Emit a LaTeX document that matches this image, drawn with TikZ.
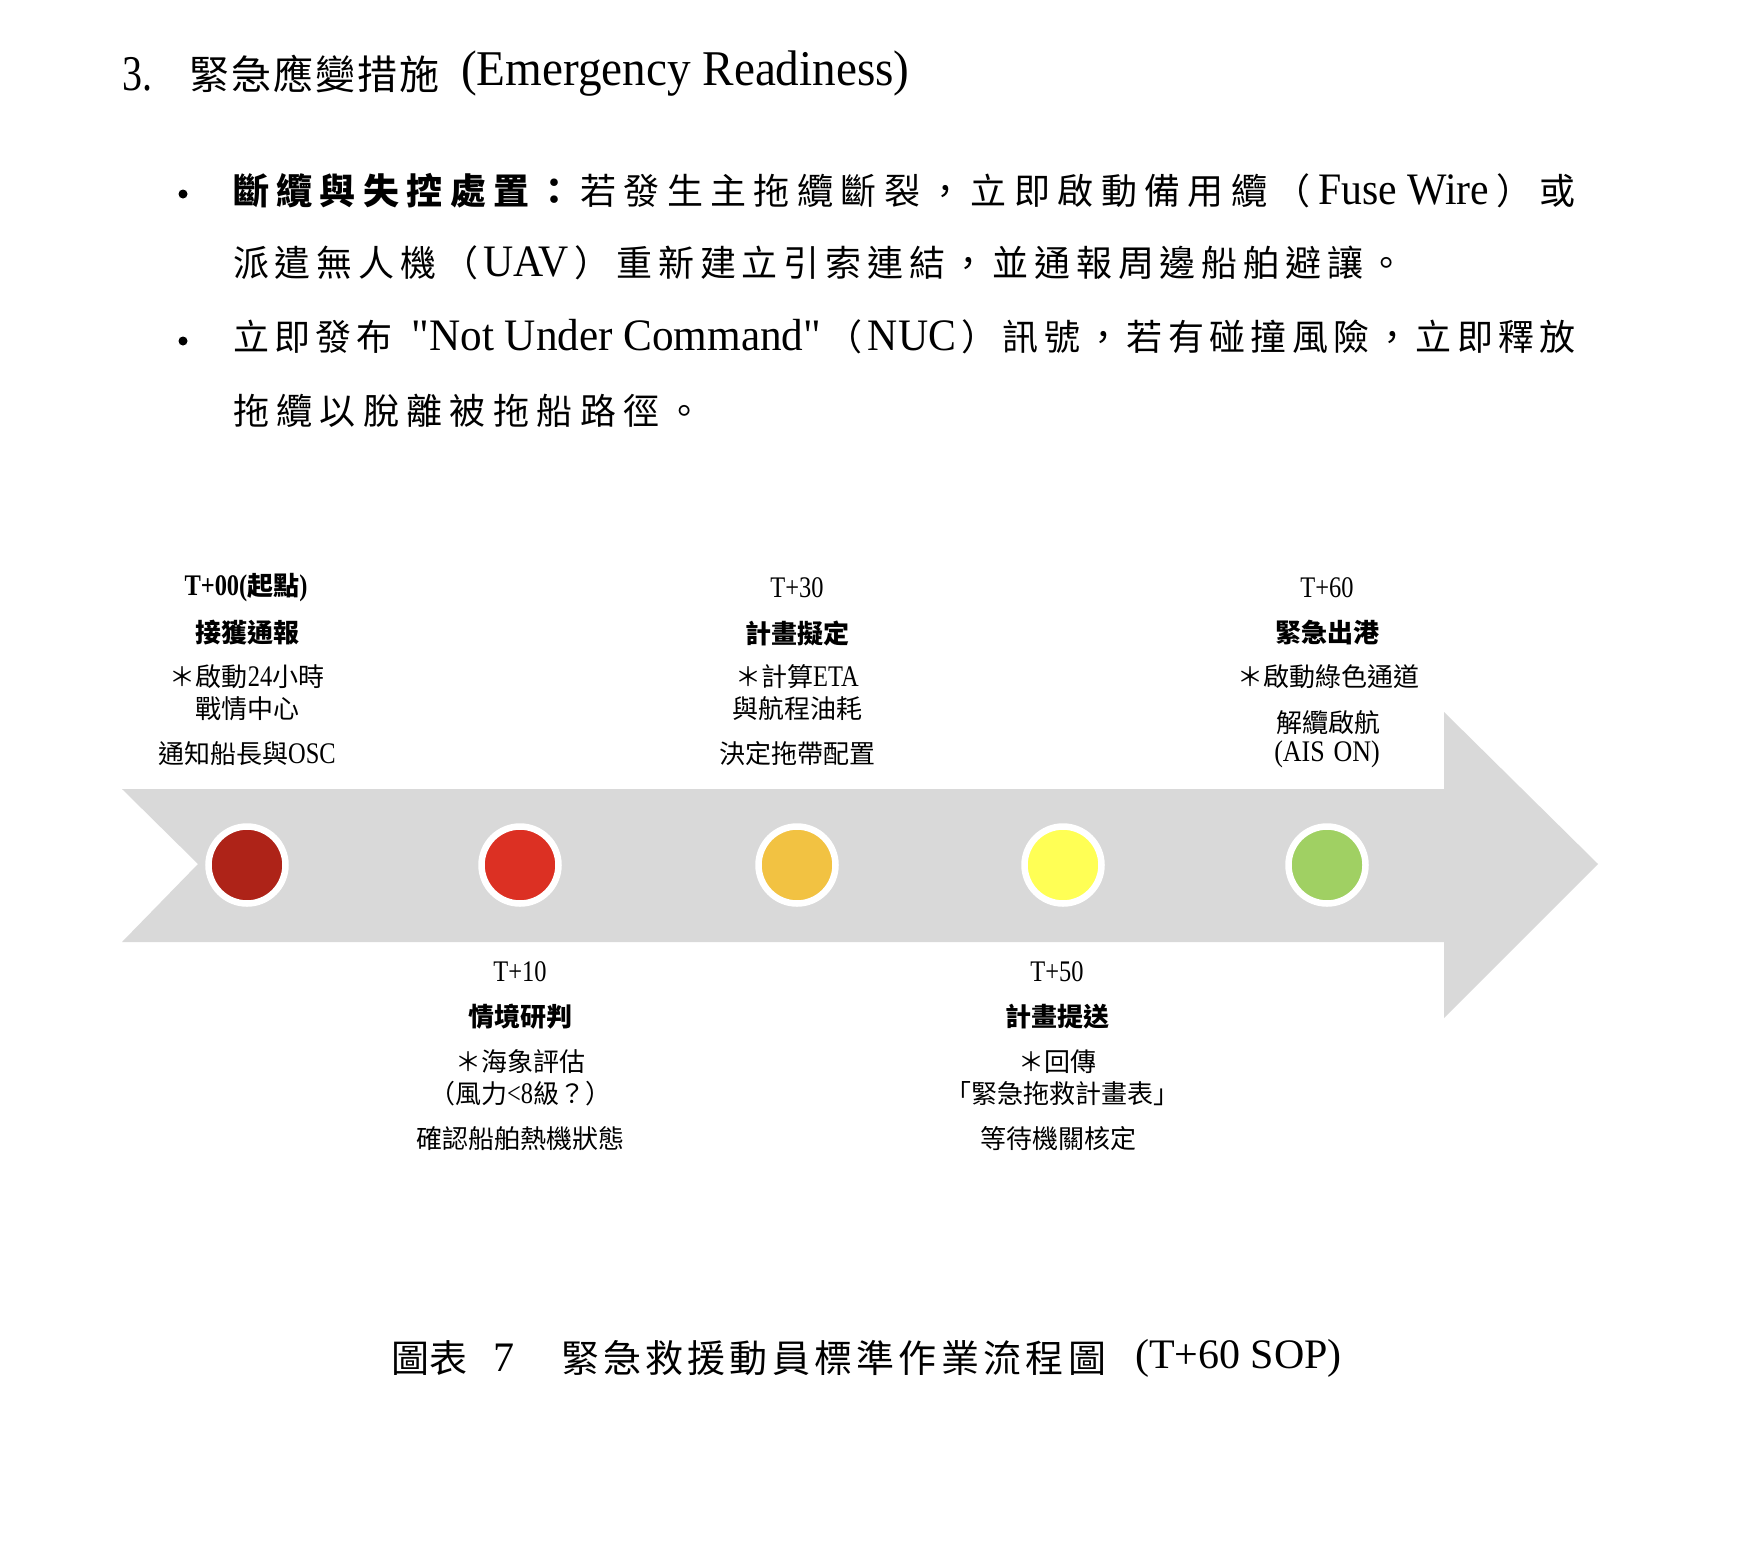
\documentclass[tikz,border=0pt]{standalone}
\usepackage{fontspec}
\usepackage{graphicx}
\setmainfont{Noto Sans CJK TC}
\newfontfamily\latfont{Liberation Serif}
\ExplSyntaxOn
\NewDocumentCommand\spreadchars{m}{\tl_map_inline:nn {#1}{##1\hfil}\unskip}
\ExplSyntaxOff
\newcommand\spreadto[2]{\hbox to #1{\spreadchars{#2}}}
\def\latv{1.15}
\newcommand\lat[2][1]{\scalebox{#1}[\latv]{\latfont #2}}
\definecolor{arrowgray}{HTML}{D9D9D9}
\definecolor{cA}{HTML}{AE2318}
\definecolor{cB}{HTML}{DC3023}
\definecolor{cC}{HTML}{F2C242}
\definecolor{cD}{HTML}{FFFF55}
\definecolor{cE}{HTML}{A0D063}
\tikzset{
  txt/.style={inner sep=0pt, outer sep=0pt},
  titlefont/.style={font=\fontsize{40}{48}\selectfont\def\latv{1.25}},
  bodyfont/.style={font=\fontsize{36}{44}\selectfont\def\latv{1.25}},
  lblfont/.style={font=\fontsize{26}{32}\selectfont\def\latv{1.15}},
  lblbold/.style={font=\fontsize{26}{32}\selectfont\bfseries\def\latv{1.15}},
  capfont/.style={font=\fontsize{38}{46}\selectfont},
  dot/.style={circle, draw=white, line width=6.5pt, minimum size=77pt, inner sep=0pt},
  bulletdot/.style={circle, fill=black, minimum size=9pt, inner sep=0pt},
}
\begin{document}
\begin{tikzpicture}[x=1pt,y=-1pt]
\fill[white] (0,0) rectangle (1742,1558);
\path[use as bounding box] (0,0) rectangle (1742,1558);

% Title
\node[txt, titlefont, anchor=west] (tnum) at (122,74) {\lat[1.0]{3.}};
\node[txt, titlefont, anchor=west] (tcjk) at (189,74) {\spreadto{250pt}{緊急應變措施}};
\node[txt, titlefont, anchor=west] (tlat) at (461,74) {\lat[1.18]{(Emergency Readiness)}};

% Bullets
\node[bulletdot] (b1) at (183,194) {};
\node[bulletdot] (b2) at (183,341) {};

\node[txt, bodyfont, anchor=west] (l1) at (233,191)
  {\hbox to 1343pt{\bfseries\spreadchars{斷纜與失控處置：}\hfil\mdseries\spreadchars{若發生主拖纜斷裂，立即啟動備用纜（{\lat[1.16]{Fuse Wire}}）或}}};
\node[txt, bodyfont, anchor=west] (l2) at (233,263)
  {\spreadto{1172pt}{派遣無人機（{\lat[1.16]{UAV}}）重新建立引索連結，並通報周邊船舶避讓。}};
\node[txt, bodyfont, anchor=west] (l3) at (233,337)
  {\spreadto{1343pt}{立即發布{\hskip 8pt}{\lat[1.2]{"Not Under Command"}}（{\lat[1.16]{NUC}}）訊號，若有碰撞風險，立即釋放}};
\node[txt, bodyfont, anchor=west] (l4) at (233,411)
  {\spreadto{470pt}{拖纜以脫離被拖船路徑。}};

% Timeline arrow
\fill[arrowgray] (122,789) -- (1444,789) -- (1444,712) -- (1598,864) -- (1444,1018) -- (1444,942) -- (122,942) -- (198,864) -- cycle;

\node[dot, fill=cA] (d1) at (247,865) {};
\node[dot, fill=cB] (d2) at (520,865) {};
\node[dot, fill=cC] (d3) at (797,865) {};
\node[dot, fill=cD] (d4) at (1063,865) {};
\node[dot, fill=cE] (d5) at (1327,865) {};

% Column A
\node[txt, lblbold] (a1) at (246,588) {\lat[0.94]{T+00(}起點\lat[0.94]{)}};
\node[txt, lblbold] (a2) at (247,633) {接獲通報};
\node[txt, lblfont] (a3) at (247,677) {＊啟動\lat[0.94]{24}小時};
\node[txt, lblfont] (a4) at (247,709) {戰情中心};
\node[txt, lblfont] (a5) at (247,754) {通知船長與\lat[0.94]{OSC}};

% Column B
\node[txt, lblfont] (bb1) at (797,588) {\lat[0.94]{T+30}};
\node[txt, lblbold] (bb2) at (797,633) {計畫擬定};
\node[txt, lblfont] (bb3) at (797,677) {＊計算\lat[0.94]{ETA}};
\node[txt, lblfont] (bb4) at (797,709) {與航程油耗};
\node[txt, lblfont] (bb5) at (797,754) {決定拖帶配置};

% Column C
\node[txt, lblfont] (c1) at (1327,588) {\lat[0.94]{T+60}};
\node[txt, lblbold] (c2) at (1327,633) {緊急出港};
\node[txt, lblfont] (c3) at (1328,677) {＊啟動綠色通道};
\node[txt, lblfont] (c4) at (1328,723) {解纜啟航};
\node[txt, lblfont] (c5) at (1327,754) {\lat[1.0]{(AIS\,\,ON)}};

% Column D
\node[txt, lblfont] (e1) at (520,972) {\lat[0.94]{T+10}};
\node[txt, lblbold] (e2) at (520,1017) {情境研判};
\node[txt, lblfont] (e3) at (520,1062) {＊海象評估};
\node[txt, lblfont] (e4) at (520,1094) {（風力\lat[0.94]{<8}級？）};
\node[txt, lblfont] (e5) at (520,1139) {確認船舶熱機狀態};

% Column E
\node[txt, lblfont] (f1) at (1057,972) {\lat[0.94]{T+50}};
\node[txt, lblbold] (f2) at (1057,1017) {計畫提送};
\node[txt, lblfont] (f3) at (1057,1062) {＊回傳};
\node[txt, lblfont] (f4) at (1062,1094) {「緊急拖救計畫表」};
\node[txt, lblfont] (f5) at (1058,1139) {等待機關核定};

% Caption
\node[txt, capfont, anchor=west] (cap1) at (391,1358) {\spreadto{74pt}{圖表}};
\node[txt, capfont] (cap2) at (504,1358) {\latfont\fontsize{42}{46}\selectfont 7};
\node[txt, capfont, anchor=west] (cap3) at (561,1358) {\spreadto{545pt}{緊急救援動員標準作業流程圖}};
\node[txt, anchor=west] (cap4) at (1135,1358) {\latfont\fontsize{42}{46}\selectfont (T+60 SOP)};
\end{tikzpicture}
\end{document}
